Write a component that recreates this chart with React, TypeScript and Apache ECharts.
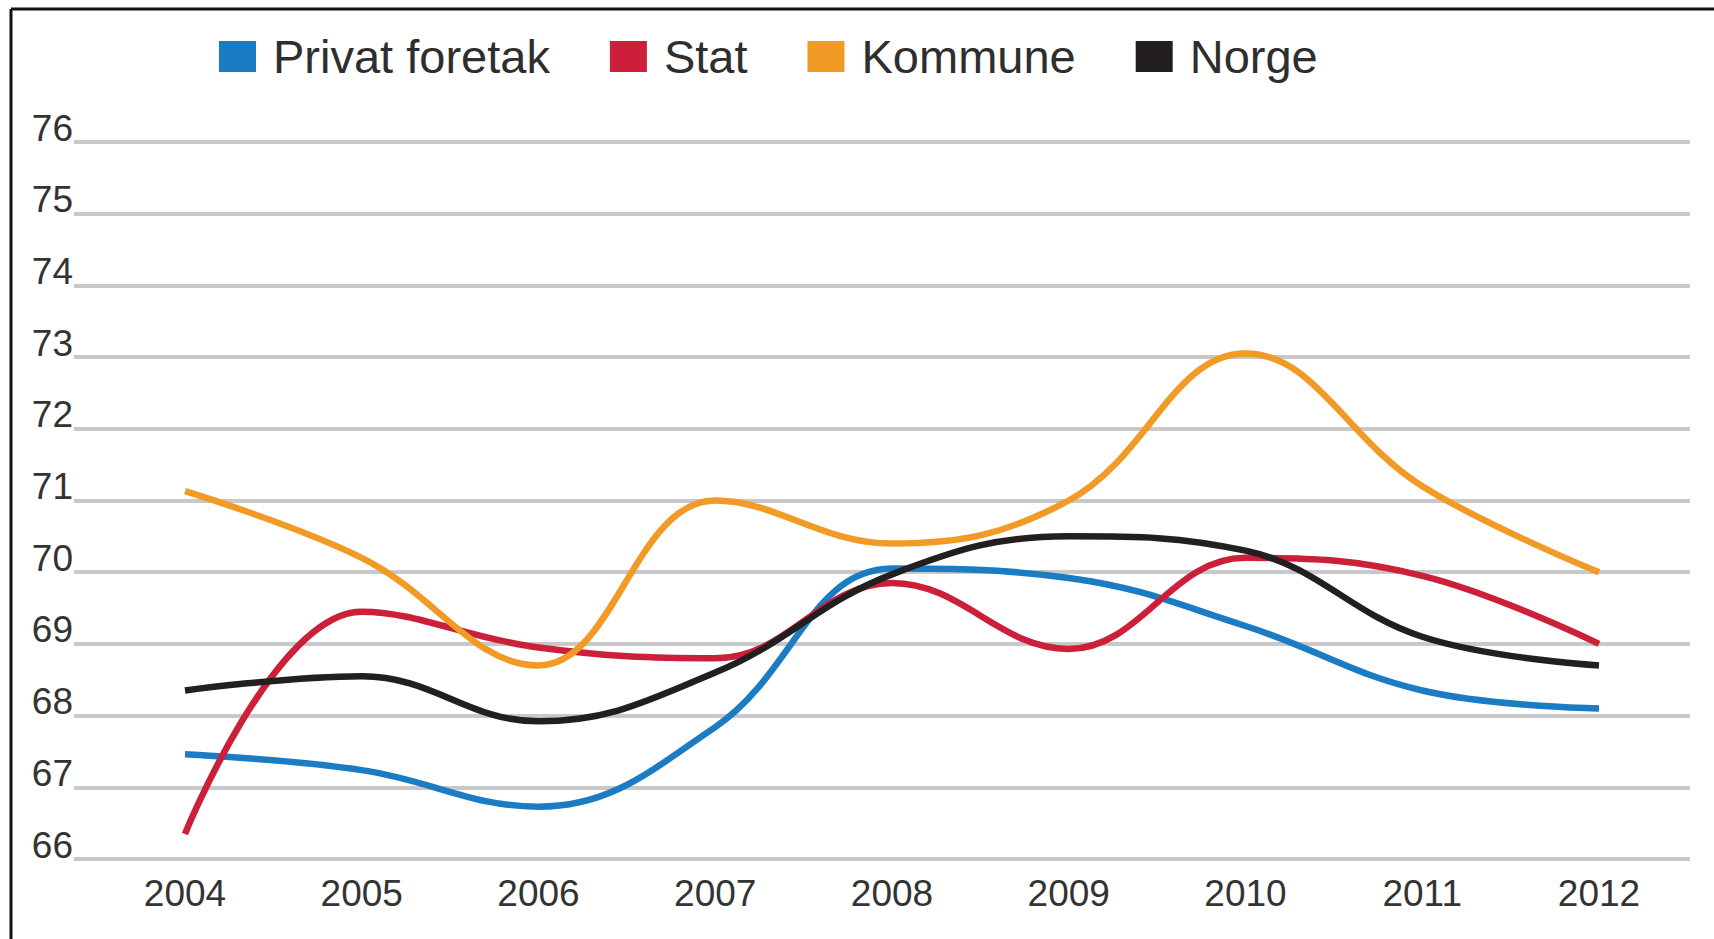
import React, { useEffect, useRef } from "react";
import * as echarts from "echarts";

const years = ["2004", "2005", "2006", "2007", "2008", "2009", "2010", "2011", "2012"];
const privatForetak = [67.46, 67.24, 66.73, 67.84, 70.05, 69.92, 69.25, 68.35, 68.1];
const stat = [66.35, 69.45, 68.95, 68.8, 69.85, 68.93, 70.2, 69.95, 69.0];
const kommune = [71.13, 70.2, 68.7, 71.0, 70.4, 71.0, 73.05, 71.2, 70.0];
const norge = [68.35, 68.55, 67.92, 68.6, 69.97, 70.5, 70.3, 69.1, 68.7];
const yMin = 66;
const yMax = 76;

const FONT = "'Liberation Sans', Arial, sans-serif";

export default function App() {
  const ref = useRef<HTMLDivElement>(null);
  useEffect(() => {
    if (!ref.current) return;
    const chart = echarts.init(ref.current, null, { renderer: "svg" });
    const mk = (name: string, data: number[], color: string) => ({
      name,
      type: "line",
      xAxisIndex: 1,
      yAxisIndex: 1,
      data,
      smooth: 0.4,
      showSymbol: false,
      symbol: "none",
      lineStyle: { color, width: 6.5, cap: "butt" },
      itemStyle: { color },
    });
    chart.setOption({
      animation: false,
      backgroundColor: "#ffffff",
      legend: {
        left: 214,
        top: 28,
        itemWidth: 37,
        itemHeight: 31,
        itemGap: 60,
        icon: "rect",
        textStyle: { fontFamily: FONT, fontSize: 47, color: "#2e2e2e", padding: [0, 0, 0, 12] },
        data: ["Privat foretak", "Stat", "Kommune", "Norge"],
      },
      grid: [
        { left: 74, right: 24, top: 142, bottom: 80 },
        { left: 185, right: 115, top: 142, bottom: 80 },
      ],
      xAxis: [
        { gridIndex: 0, type: "category", data: years, show: false },
        {
          gridIndex: 1,
          type: "category",
          data: years,
          boundaryGap: false,
          axisLine: { show: false },
          axisTick: { show: false },
          splitLine: { show: false },
          axisLabel: { fontFamily: FONT, fontSize: 37, color: "#333", margin: 16 },
        },
      ],
      yAxis: [
        {
          gridIndex: 0,
          type: "value",
          min: yMin,
          max: yMax,
          interval: 1,
          axisLine: { show: false },
          axisTick: { show: false },
          splitLine: { show: true, lineStyle: { color: "#c8c8c8", width: 4 } },
          axisLabel: {
            fontFamily: FONT,
            fontSize: 37,
            color: "#333",
            margin: 1,
            verticalAlign: "bottom",
            lineHeight: 28,
          },
        },
        { gridIndex: 1, type: "value", min: yMin, max: yMax, interval: 1, show: false, splitLine: { show: false } },
      ],
      graphic: [
        { type: "line", shape: { x1: 11, y1: 9, x2: 11, y2: 939 }, style: { stroke: "#111", lineWidth: 3 } },
        { type: "line", shape: { x1: 11, y1: 9, x2: 1714, y2: 9 }, style: { stroke: "#111", lineWidth: 3 } },
      ],
      series: [
        mk("Privat foretak", privatForetak, "#1b7cc4"),
        mk("Stat", stat, "#cc1f3a"),
        mk("Kommune", kommune, "#f29a26"),
        mk("Norge", norge, "#231f20"),
      ],
    });
    return () => chart.dispose();
  }, []);
  return <div ref={ref} style={{ position: "absolute", left: 0, top: 0, width: 1714, height: 939 }} />;
}
